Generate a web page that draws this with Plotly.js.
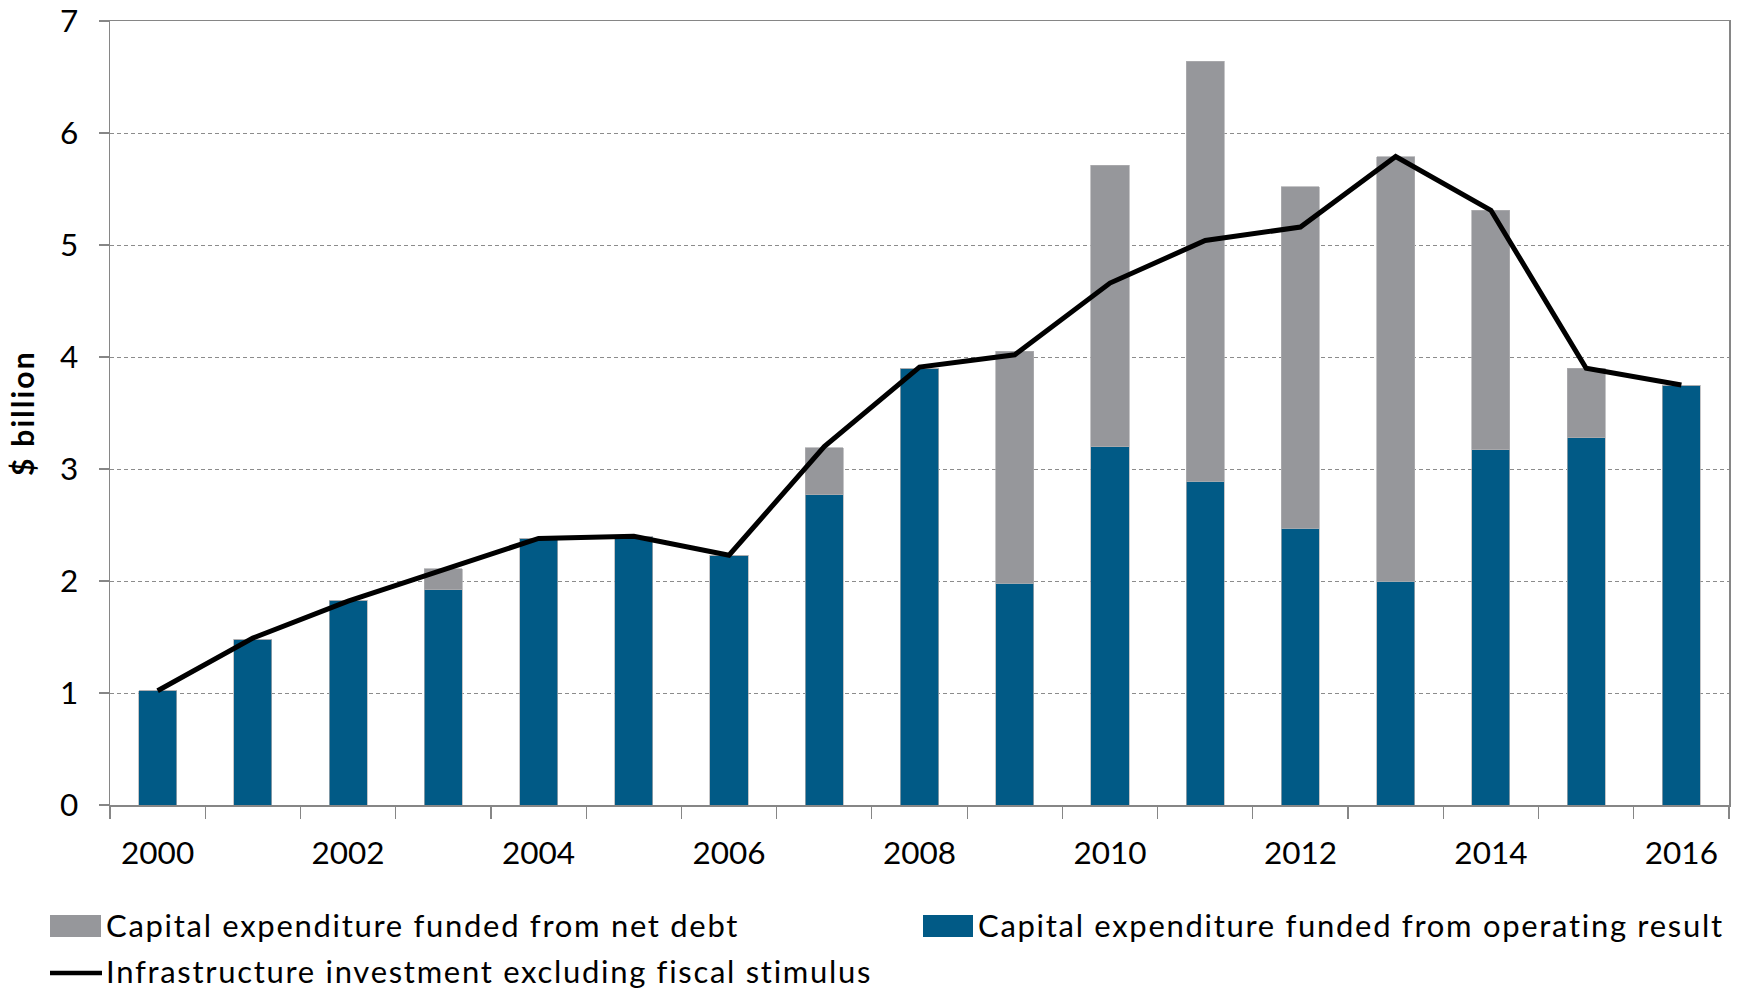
<!DOCTYPE html>
<html>
<head>
<meta charset="utf-8">
<script src="https://cdn.plot.ly/plotly-3.0.1.min.js"></script>
<style>
html,body{margin:0;padding:0;background:#fff;}
#chart{width:1743px;height:990px;}
#chart .annotation-text{letter-spacing:1.7px;}
#chart .ytitle{letter-spacing:2.2px;}
</style>
</head>
<body>
<div id="chart"></div>
<script>
// ---- data ----
var years = [2000,2001,2002,2003,2004,2005,2006,2007,2008,2009,2010,2011,2012,2013,2014,2015,2016];
var operatingResult = [1.02,1.48,1.83,1.92,2.38,2.40,2.23,2.77,3.90,1.98,3.20,2.89,2.47,2.00,3.17,3.28,3.75];
var netDebt = [0,0,0,0.19,0,0,0,0.42,0,2.07,2.51,3.75,3.05,3.79,2.14,0.62,0];
var infraExStimulus = [1.02,1.49,1.82,2.10,2.38,2.40,2.23,3.20,3.91,4.02,4.66,5.04,5.16,5.79,5.31,3.90,3.75];
var xTickVals = [2000,2002,2004,2006,2008,2010,2012,2014,2016];
var xTickText = ['2000','2002','2004','2006','2008','2010','2012','2014','2016'];
var yTickVals = [0,1,2,3,4,5,6,7];
var nameNetDebt = 'Capital expenditure funded from net debt';
var nameOperating = 'Capital expenditure funded from operating result';
var nameLine = 'Infrastructure investment excluding fiscal stimulus';
var yTitle = '$ billion';

// ---- style ----
var BLUE = '#015a86';
var GREY = '#96979b';
var FONT = 'Lato, "Open Sans", sans-serif';
var W = 1743, H = 990;
var M = {l:110, r:14, t:21, b:185};
var pw = W - M.l - M.r, ph = H - M.t - M.b;
function px(x){ return (x - M.l) / pw; }
function py(y){ return (H - M.b - y) / ph; }

var barEdge = {color:'rgba(175,175,178,0.9)', width:0.8};
var traces = [
  {type:'bar', x:years, y:operatingResult, name:nameOperating, marker:{color:BLUE, line:barEdge}, width:0.4},
  {type:'bar', x:years, y:netDebt, name:nameNetDebt, marker:{color:GREY, line:barEdge}, width:0.4},
  {type:'scatter', mode:'lines', x:years, y:infraExStimulus, name:nameLine,
   line:{color:'#000', width:5}}
];

var shapes = [
  {type:'rect', xref:'paper', yref:'paper', x0:px(50), x1:px(101), y0:py(937), y1:py(915), fillcolor:GREY, line:{width:0}},
  {type:'rect', xref:'paper', yref:'paper', x0:px(923), x1:px(973), y0:py(937), y1:py(915), fillcolor:BLUE, line:{width:0}},
  {type:'line', xref:'paper', yref:'paper', x0:px(50), x1:px(102), y0:py(973), y1:py(973), line:{color:'#000', width:4.5}}
];
var annFont = {family:FONT, size:31, color:'#000'};
function legendText(txt, xPix, yPix, boxW){
  return {xref:'paper', yref:'paper', x:px(xPix), y:py(yPix), xanchor:'left', yanchor:'middle',
          width:boxW, align:'left', text:txt, showarrow:false, font:annFont};
}
var annotations = [
  legendText(nameNetDebt, 104, 925, 800),
  legendText(nameOperating, 976, 925, 764),
  legendText(nameLine, 104, 971, 880)
];

var layout = {
  width:W, height:H,
  margin:M,
  paper_bgcolor:'#fff', plot_bgcolor:'#fff',
  barmode:'stack',
  showlegend:false,
  font:{family:FONT, size:31, color:'#000'},
  xaxis:{
    range:[1999.5, 2016.5], tickmode:'array', tickvals:xTickVals, ticktext:xTickText,
    ticks:'', ticklabelstandoff:20, showgrid:false, zeroline:false,
    showline:true, linecolor:'#868686', linewidth:1.5, mirror:true,
    tickfont:{family:FONT, size:31.5, color:'#000'},
    minor:{tickmode:'linear', tick0:1999.5, dtick:1, ticks:'outside', ticklen:12, tickcolor:'#868686', tickwidth:1.2, showgrid:false}
  },
  yaxis:{
    range:[0,7], tickmode:'array', tickvals:yTickVals,
    ticks:'outside', ticklen:10, tickcolor:'#868686', tickwidth:1.2,
    ticklabelstandoff:14,
    showgrid:true, gridcolor:'#8c8c8c', gridwidth:1, griddash:'4px,3px',
    zeroline:false, showline:true, linecolor:'#868686', linewidth:1.5, mirror:true,
    tickfont:{family:FONT, size:31.5, color:'#000'},
    title:{text:'<b>'+yTitle+'</b>', font:{family:FONT, size:30, color:'#000'}, standoff:16}
  },
  shapes:shapes,
  annotations:annotations
};

Plotly.newPlot('chart', traces, layout, {displayModeBar:false, staticPlot:true});
</script>
</body>
</html>
